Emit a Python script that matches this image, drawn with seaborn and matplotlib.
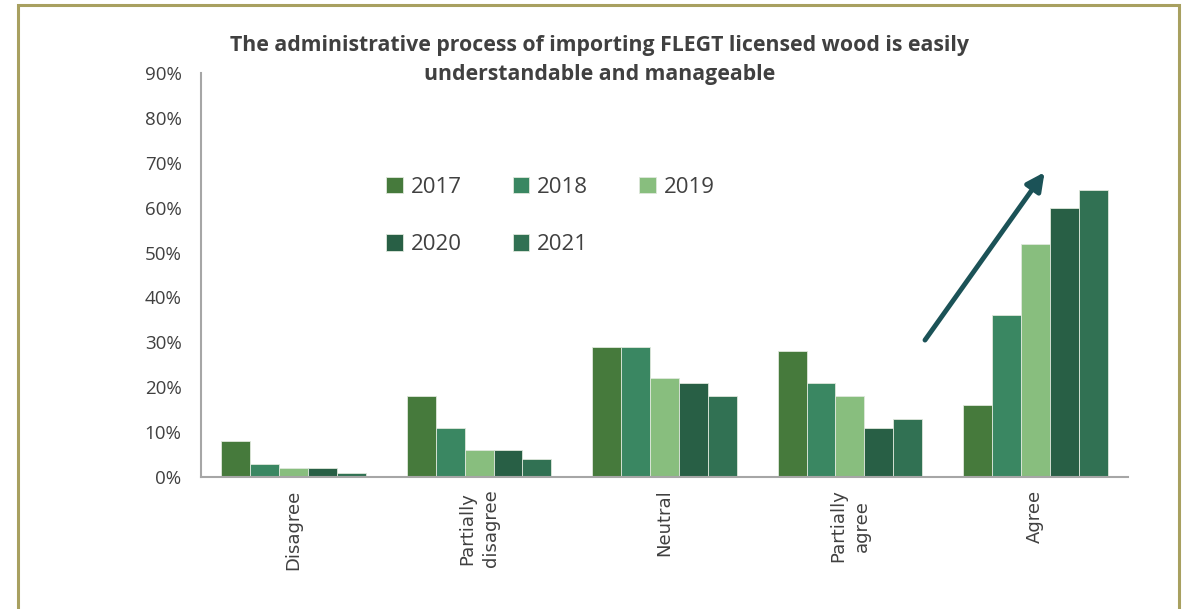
import matplotlib
matplotlib.use("Agg")
import matplotlib.pyplot as plt
import seaborn as sns
import pandas as pd
from matplotlib.patches import Rectangle
from matplotlib.ticker import PercentFormatter

categories = ["Disagree", "Partially\ndisagree", "Neutral", "Partially\nagree", "Agree"]
years = ["2017", "2018", "2019", "2020", "2021"]
values = {
    "2017": [8, 18, 29, 28, 16],
    "2018": [3, 11, 29, 21, 36],
    "2019": [2, 6, 22, 18, 52],
    "2020": [2, 6, 21, 11, 60],
    "2021": [1, 4, 18, 13, 64],
}
colors = ["#467a3c", "#3a8762", "#88be7e", "#285f45", "#317153"]
title = "The administrative process of importing FLEGT licensed wood is easily\nunderstandable and manageable"
yticks = [0, 10, 20, 30, 40, 50, 60, 70, 80, 90]

rows = []
for y in years:
    for c, v in zip(categories, values[y]):
        rows.append({"category": c, "year": y, "value": v})
df = pd.DataFrame(rows)

sns.set_theme(style="white")
plt.rcParams["font.family"] = ["Open Sans", "DejaVu Sans"]

fig = plt.figure(figsize=(11.89, 6.09), dpi=100)
ax = fig.add_axes([201/1189, 1-477/609, (1128-201)/1189, (477-73)/609])

sns.barplot(data=df, x="category", y="value", hue="year", order=categories,
            hue_order=years, palette=colors, width=0.78, ax=ax,
            edgecolor="#dfe8dc", linewidth=0.6, saturation=1, errorbar=None)

ax.set_ylim(0, 90)
ax.set_xlim(-0.5, 4.5)
ax.set_yticks(yticks)
ax.yaxis.set_major_formatter(PercentFormatter(decimals=0))
ax.set_xlabel("")
ax.set_ylabel("")
ax.tick_params(axis="y", length=0, pad=14, labelsize=13.5, labelcolor="#404040")
ax.set_xticks(range(len(categories)))
ax.set_xticklabels(categories, rotation=90, fontsize=13, color="#404040",
                   family="DejaVu Sans", va="top", linespacing=1.45)
ax.tick_params(axis="x", length=0, pad=9)
# boundary ticks between categories
ax.set_xticks([i - 0.5 for i in range(len(categories) + 1)], minor=True)
ax.tick_params(axis="x", which="minor", length=8, width=1.2, color="#a6a6a6", direction="out")
for s in ["top", "right"]:
    ax.spines[s].set_visible(False)
for s in ["left", "bottom"]:
    ax.spines[s].set_color("#a6a6a6")
    ax.spines[s].set_linewidth(1.5)

handles, labels = ax.get_legend_handles_labels()
order = [0, 3, 1, 4, 2]
leg = ax.legend([handles[i] for i in order], [labels[i] for i in order],
                ncol=3, loc="upper left", bbox_to_anchor=(0.178, 0.793), frameon=False,
                fontsize=16, handlelength=0.75, handleheight=0.75, handletextpad=0.35,
                columnspacing=2.3, labelspacing=1.65)
for t in leg.get_texts():
    t.set_color("#404040")

ax.annotate("", xy=(4.05, 67.9), xytext=(3.405, 30.5),
            arrowprops=dict(arrowstyle="-|>,head_length=0.9,head_width=0.45",
                            color="#1b5257", lw=3.5, shrinkA=0, shrinkB=0))

fig.text(0.504, 1-60/609, title, ha="center", va="center", fontsize=15.3,
         fontweight="bold", color="#404040", linespacing=1.5)

fig.patches.append(Rectangle((18/1189, -0.1), (1179-18)/1189, 1.1 - 5/609,
                             transform=fig.transFigure, fill=False,
                             edgecolor="#a8a060", linewidth=2.2))

fig.savefig("out.png", dpi=100)
